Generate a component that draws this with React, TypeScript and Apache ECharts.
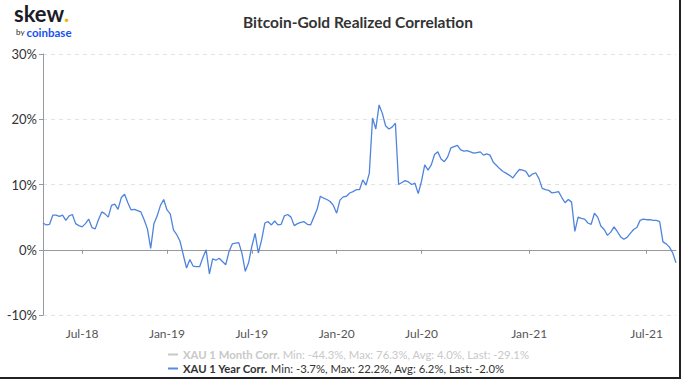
import React, { useEffect, useRef } from "react";
import * as echarts from "echarts";

// 1-year realized correlation (%), one point per sampled row of the source data
const oneYearCorr: number[] = [
  4.1, 3.8, 3.9, 5.3, 5.3, 5.1, 5.3, 4.5, 5.2, 5.4,
  4.0, 3.7, 3.5, 4.0, 4.7, 3.4, 3.2, 4.6, 5.8, 5.5,
  5.0, 6.8, 7.0, 6.2, 8.0, 8.5, 7.2, 6.1, 6.2, 6.0,
  5.8, 4.6, 3.2, 0.2, 4.0, 5.2, 6.8, 7.7, 6.1, 5.5,
  3.0, 2.3, 1.3, -0.8, -2.8, -1.5, -2.5, -2.6, -2.6, -1.2,
  0.0, -3.7, -1.4, -1.6, -1.3, -1.8, -2.3, -0.3, 0.9, 1.0,
  1.1, -0.6, -3.3, -2.0, 0.5, 2.5, -0.5, 1.5, 4.1, 4.3,
  3.8, 4.4, 3.8, 3.9, 5.2, 5.4, 5.0, 3.7, 4.0, 4.2,
  4.3, 3.9, 3.8, 5.0, 6.2, 8.2, 7.9, 7.7, 7.4, 6.8,
  5.6, 7.6, 8.1, 8.2, 8.7, 8.9, 9.2, 9.2, 10.7, 9.9,
  11.7, 20.2, 18.5, 22.2, 20.9, 19.0, 18.5, 18.8, 19.4, 10.0,
  10.3, 10.6, 10.4, 10.0, 10.2, 8.6, 10.5, 13.0, 12.2, 13.0,
  14.6, 15.0, 13.9, 13.5, 14.2, 15.6, 15.8, 16.0, 15.3, 15.1,
  15.2, 15.0, 14.8, 14.9, 15.0, 14.5, 14.7, 14.5, 13.4, 12.9,
  12.4, 12.0, 11.7, 11.4, 11.0, 11.7, 12.3, 12.2, 12.0, 11.2,
  11.6, 11.8, 10.9, 9.4, 9.2, 9.1, 8.7, 8.8, 8.9, 8.0,
  7.2, 7.7, 7.3, 2.8, 5.0, 4.8, 4.7, 4.1, 3.9, 5.6,
  5.0, 3.6, 3.1, 2.2, 2.7, 3.5, 2.8, 2.0, 1.6, 1.9,
  2.5, 3.1, 3.4, 4.5, 4.7, 4.6, 4.6, 4.5, 4.5, 4.3,
  1.2, 0.9, 0.4, -0.5, -2.0,
];

// The 1-month series is switched off in the legend (no line drawn)
const oneMonthCorr: number[] = [];

const seriesNames = ["XAU 1 Month Corr.", "XAU 1 Year Corr."];
const seriesStats = [
  "Min: -44.3%, Max: 76.3%, Avg: 4.0%, Last: -29.1%",
  "Min: -3.7%, Max: 22.2%, Avg: 6.2%, Last: -2.0%",
];

// Source rows: weekday-only data (weekly samples) until the switch, then every 5 calendar days
const firstDate = Date.UTC(2018, 3, 12);
const switchIndex = 126;
const MONTHS = ["Jan", "Feb", "Mar", "Apr", "May", "Jun", "Jul", "Aug", "Sep", "Oct", "Nov", "Dec"];
const DAY = 86400000;

const categories: string[] = oneYearCorr.map((_, i) => {
  const days = i <= switchIndex ? i * 7 : switchIndex * 7 + (i - switchIndex) * 5;
  return new Date(firstDate + days * DAY).toISOString().slice(0, 10);
});

const yTicks = { min: -10, max: 30, interval: 10 };

function isHalfYearStart(index: number): boolean {
  if (index === 0) return false;
  const m = Number(categories[index].slice(5, 7)) - 1;
  const pm = Number(categories[index - 1].slice(5, 7)) - 1;
  return (m === 0 || m === 6) && m !== pm;
}

function fmtCat(v: string): string {
  const m = Number(v.slice(5, 7)) - 1;
  return `${MONTHS[m]}-${v.slice(2, 4)}`;
}

export default function App() {
  const ref = useRef<HTMLDivElement>(null);
  useEffect(() => {
    if (!ref.current) return;
    const chart = echarts.init(ref.current, undefined, { renderer: "svg" });
    const FONT = "Lato";
    chart.setOption({
      animation: false,
      backgroundColor: "#ffffff",
      textStyle: { fontFamily: FONT },
      title: {
        text: "Bitcoin-Gold Realized Correlation",
        left: 353,
        top: 9,
        textAlign: "center",
        textStyle: { fontFamily: FONT, fontSize: 15.5, fontWeight: "bold", color: "#333" },
      },
      graphic: [
        {
          type: "text",
          left: 14,
          top: 2.5,
          style: {
            text: "{a|skew}{b|.}",
            rich: {
              a: { fontFamily: FONT, fontSize: 22, lineHeight: 20, fontWeight: "bold", fill: "#1c1c28" },
              b: { fontFamily: FONT, fontSize: 22, lineHeight: 20, fontWeight: "bold", fill: "#f5b300" },
            },
          },
        },
        {
          type: "text",
          left: 16,
          top: 26,
          style: {
            text: "{a|by }{b|coinbase}",
            rich: {
              a: { fontFamily: FONT, fontSize: 8, lineHeight: 11, fill: "#1c1c28" },
              b: { fontFamily: FONT, fontSize: 11.5, lineHeight: 11, fontWeight: "bold", fill: "#1652f0" },
            },
          },
        },
        { type: "rect", shape: { x: 679, y: 0, width: 2, height: 379 }, style: { fill: "#222" } },
        { type: "rect", shape: { x: 0, y: 377, width: 681, height: 2 }, style: { fill: "#222" } },
      ],
      legend: {
        orient: "vertical",
        left: 163,
        top: 344,
        itemGap: 3,
        itemWidth: 10,
        itemHeight: 2,
        icon: "rect",
        inactiveColor: "#c8c8c8",
        selected: { [seriesNames[0]]: false, [seriesNames[1]]: true },
        data: seriesNames,
        formatter: (name: string) => {
          const k = seriesNames.indexOf(name);
          return `{n|${name}} {s|${seriesStats[k]}}`;
        },
        textStyle: {
          fontFamily: FONT,
          fontSize: 11.3,
          color: "#333",
          rich: {
            n: { fontFamily: FONT, fontSize: 11.3, fontWeight: "bold" },
            s: { fontFamily: FONT, fontSize: 11.3 },
          },
        },
      },
      grid: { left: 43, right: 5, top: 54, bottom: 64 },
      xAxis: {
        type: "category",
        data: categories,
        boundaryGap: false,
        axisLine: { lineStyle: { color: "#999", width: 1 } },
        axisTick: { show: true, length: 4, interval: (i: number) => isHalfYearStart(i), lineStyle: { color: "#999" } },
        axisLabel: {
          interval: (i: number) => isHalfYearStart(i),
          formatter: (v: string) => fmtCat(v),
          fontFamily: FONT,
          fontSize: 12,
          color: "#555",
          margin: 12,
        },
        splitLine: { show: false },
      },
      yAxis: {
        type: "value",
        min: yTicks.min,
        max: yTicks.max,
        interval: yTicks.interval,
        axisLine: { show: true, lineStyle: { color: "#999", width: 1 } },
        axisTick: { show: true, length: 4, lineStyle: { color: "#999" } },
        axisLabel: { formatter: "{value}%", fontFamily: FONT, fontSize: 13, color: "#333", margin: 6 },
        splitLine: { show: true, lineStyle: { color: "#e2e2e2", type: [4, 4], width: 1 } },
      },
      series: [
        {
          name: seriesNames[0],
          type: "line",
          data: oneMonthCorr,
          showSymbol: false,
          color: "#b0b0b0",
          lineStyle: { width: 1 },
        },
        {
          name: seriesNames[1],
          type: "line",
          data: oneYearCorr,
          showSymbol: false,
          color: "#5a8ae0",
          lineStyle: { width: 1.3, color: "#4f84de" },
        },
      ],
    });
    return () => chart.dispose();
  }, []);
  return (
    <div
      ref={ref}
      style={{ position: "absolute", left: 0, top: 0, width: 681, height: 379 }}
    />
  );
}
